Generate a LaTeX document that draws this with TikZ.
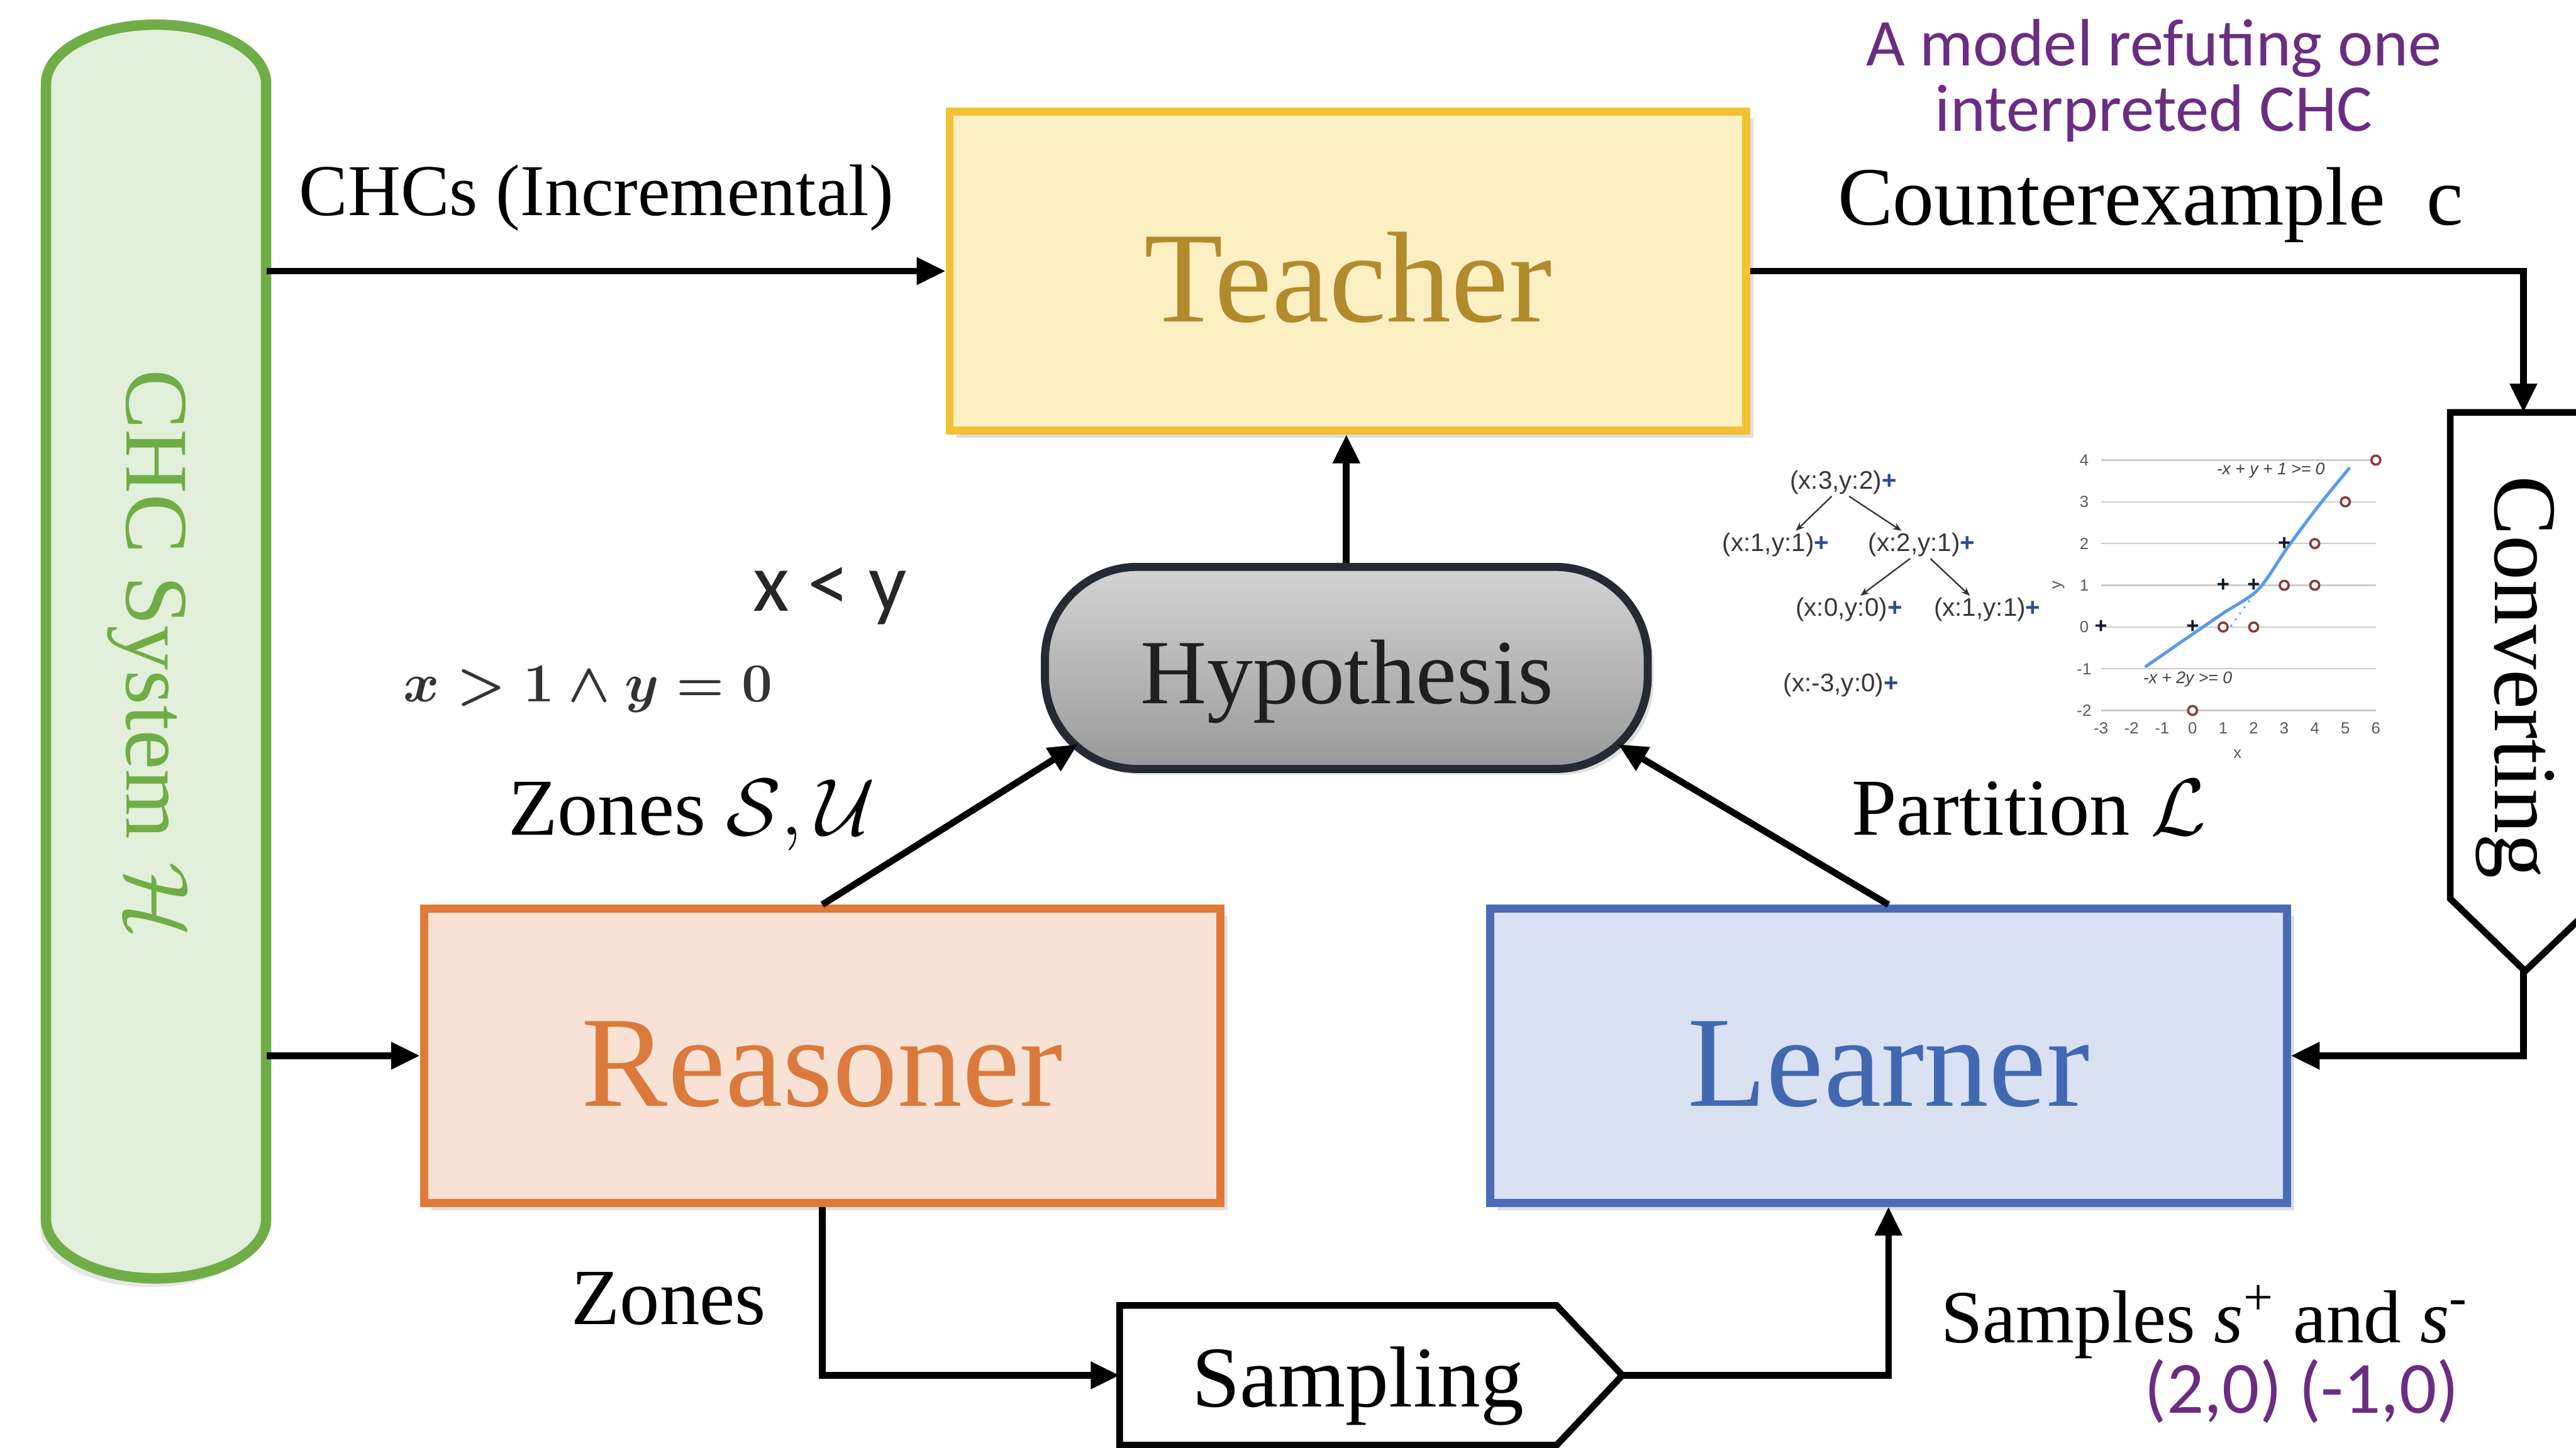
\RequirePackage{fix-cm}
\documentclass[tikz,border=0pt]{standalone}
\usepackage{fontspec}
\setmainfont{Liberation Serif}
\newfontfamily\chartfont{Liberation Sans}
\newfontfamily\calfont{Carlito}
\usetikzlibrary{arrows.meta,shadows}
\newcommand\setfs[1]{\fontsize{#1}{#1}\selectfont}
\definecolor{tborder}{HTML}{F2C134}
\definecolor{tfill}{HTML}{FCF0C3}
\definecolor{ttext}{HTML}{B38B2D}
\definecolor{rborder}{HTML}{E07A38}
\definecolor{rfill}{HTML}{F8E2D5}
\definecolor{rtext}{HTML}{DB7A3C}
\definecolor{lborder}{HTML}{4A6CB5}
\definecolor{lfill}{HTML}{D9E1F3}
\definecolor{ltext}{HTML}{4268B2}
\definecolor{gborder}{HTML}{70AD47}
\definecolor{gfill}{HTML}{E2EFDA}
\definecolor{purp}{HTML}{6B2D82}
\definecolor{plusblue}{HTML}{2E4D8A}
\definecolor{circred}{HTML}{8E3B3B}
\definecolor{lineblue}{HTML}{5A9BE8}
\definecolor{hypborder}{HTML}{262A33}
\begin{document}
\begin{tikzpicture}[x=0.02cm,y=-0.02cm,
  bigbox/.style={draw, line width=2.8pt, inner sep=0pt, minimum width=9.7cm,
     drop shadow={opacity=0.25,shadow xshift=2.5pt,shadow yshift=-2.5pt}},
  bigtxt/.style={anchor=base, inner sep=0pt, font=\setfs{44.8}},
  arr/.style={line width=2.3pt, -{Triangle[length=10pt,width=9pt]}},
  lbl/.style={anchor=base, inner sep=0pt},
  flowshape/.style={draw, line width=2.3pt, fill=white, line join=miter},
  treetxt/.style={font=\chartfont\setfs{8.8}, text=black!78, inner sep=0.5pt},
  treearr/.style={line width=0.5pt, black!80, -{Stealth[length=3pt,width=2.4pt]}},
  cir/.style={draw=circred, line width=0.8pt, fill=white}
]
\useasboundingbox (0,0) rectangle (1568,881);

% CHC system pill
\draw[line width=3.6pt, draw=gborder, fill=gfill,
      drop shadow={opacity=0.2,shadow xshift=-2pt,shadow yshift=-3pt}]
  (28,742) arc[start angle=180,end angle=0,x radius=67,y radius=36]
  -- (162,51) arc[start angle=0,end angle=-180,x radius=67,y radius=36] -- cycle;
\node[minimum width=2.68cm, minimum height=15.26cm, inner sep=0pt] (chc) at (95,396.5) {};
\node[rotate=-90, text=gborder, font=\setfs{31}, inner sep=0pt] (chclbl) at (90,398) {CHC System $\mathcal{H}$};

% main boxes
\node[bigbox, draw=tborder, fill=tfill, minimum height=3.88cm] (teacher) at (820.5,165) {};
\node[bigtxt, text=ttext] (teacherlbl) at (820.5,196) {Teacher};
\node[bigbox, draw=rborder, fill=rfill, minimum height=3.58cm] (reasoner) at (500.5,642.5) {};
\node[bigtxt, text=rtext] (reasonerlbl) at (500.5,673) {Reasoner};
\node[bigbox, draw=lborder, fill=lfill, minimum height=3.58cm] (learner) at (1149.5,642.5) {};
\node[bigtxt, text=ltext] (learnerlbl) at (1149.5,673) {Learner};
\node[draw=hypborder, line width=2.8pt, rounded corners=32pt, top color=black!17, bottom color=black!40,
      minimum width=7.34cm, minimum height=2.46cm, inner sep=0pt,
      drop shadow={opacity=0.25,shadow xshift=2pt,shadow yshift=-2pt}] (hyp) at (819.5,406.5) {};
\node[lbl, font=\setfs{31.8}, text=black!88] (hyplbl) at (820,428) {Hypothesis};

% Converting (pointing down)
\draw[flowshape] (1491.5,251) -- (1583,251) -- (1583,547) -- (1537,591) -- (1491.5,547) -- cycle;
\coordinate (convtop) at (1536,251);
\coordinate (convtip) at (1536,591);
\node[rotate=-90, font=\setfs{31}, inner sep=0pt] (convlbl) at (1531,412) {Converting};

% Sampling (pointing right)
\draw[flowshape] (681.5,794.5) -- (947.5,794.5) -- (987.5,837) -- (947.5,879.5) -- (681.5,879.5) -- cycle;
\coordinate (sampin) at (681.5,837);
\coordinate (samptip) at (987.5,837);
\node[lbl, font=\setfs{30}] (samplbl) at (826.5,856) {Sampling};

% anchor coordinates on the hypothesis
\coordinate (hypL) at (656,453);
\coordinate (hypR) at (985,453);

% connectors
\draw[arr] (chc.east |- teacher.west) -- (teacher.west);
\draw[arr] (chc.east |- reasoner.west) -- (reasoner.west);
\draw[arr] (teacher.east) -| (convtop);
\draw[arr] (convtip) |- (learner.east);
\draw[arr] (hyp.north) -- (hyp.north |- teacher.south);
\draw[arr] (reasoner.north) -- (hypL);
\draw[arr] (learner.north) -- (hypR);
\draw[arr] (reasoner.south) |- (sampin);
\draw[arr] (samptip) -| (learner.south);

% labels
\node[lbl, font=\setfs{25.3}] (lchcs) at (363,131) {CHCs (Incremental)};
\node[lbl, font=\setfs{28.7}] (lcex) at (1309,137) {Counterexample\ \ c};
\node[lbl, font=\calfont\setfs{23.2}, text=purp] (ltitle1) at (1311,40) {A model refuting one};
\node[lbl, font=\calfont\setfs{23.2}, text=purp] (ltitle2) at (1311,80) {interpreted CHC};
\node[lbl, font=\calfont\setfs{29}, text=black!85] (lxy) at (505,372) {x < y};
\node[lbl, font=\setfs{19}\boldmath, text=black!80] (lxy2) at (358,427) {$x>1\wedge y=0$};
\node[lbl, font=\setfs{28}] (lzsu) at (421,508) {Zones $\mathcal{S},\mathcal{U}$};
\node[lbl, font=\setfs{28}] (lpart) at (1235,508) {Partition $\mathcal{L}$};
\node[lbl, font=\setfs{27.6}] (lzones) at (407,806) {Zones};
\node[lbl, font=\setfs{26}] (lsamples) at (1342,817) {Samples {\itshape s}\textsuperscript{+} and {\itshape s}\textsuperscript{-}};
\node[lbl, font=\calfont\setfs{25.5}, text=purp] (lpts) at (1401,860) {(2,0) (-1,0)};

% decision tree
\node[treetxt] (t1) at (1122,293.6) {(x:3,y:2)\textcolor{plusblue}{\bfseries+}};
\node[treetxt] (t2) at (1080.8,331.5) {(x:1,y:1)\textcolor{plusblue}{\bfseries+}};
\node[treetxt] (t3) at (1169.7,331.5) {(x:2,y:1)\textcolor{plusblue}{\bfseries+}};
\node[treetxt] (t4) at (1125.4,371) {(x:0,y:0)\textcolor{plusblue}{\bfseries+}};
\node[treetxt] (t5) at (1209.6,371) {(x:1,y:1)\textcolor{plusblue}{\bfseries+}};
\node[treetxt] (t6) at (1120.6,417) {(x:-3,y:0)\textcolor{plusblue}{\bfseries+}};
\draw[treearr] ([xshift=-4pt]t1.south) -- ([xshift=7pt]t2.north);
\draw[treearr] ([xshift=2pt]t1.south) -- ([xshift=-7pt]t3.north);
\draw[treearr] ([xshift=-4pt]t3.south) -- ([xshift=4pt]t4.north);
\draw[treearr] ([xshift=3pt]t3.south) -- ([xshift=-6pt]t5.north);

% chart
\begin{scope}[shift={(1334.6,381.6)}, x=0.372cm, y=0.508cm]
  \foreach \v in {-2,...,4} {
    \draw[black!20, line width=0.5pt] (-3,\v) -- (6,\v);
    \node[font=\chartfont\setfs{5.6}, text=black!65, inner sep=0pt] (ylab\v) at (-3.55,\v) {\v};
  }
  \foreach \u in {-3,...,6}
    \node[font=\chartfont\setfs{5.6}, text=black!65, inner sep=0pt] (xlab\u) at (\u,-2.42) {\u};
  \node[font=\chartfont\setfs{5.6}, text=black!65, inner sep=0pt] (xtitle) at (1.47,-3.05) {x};
  \node[font=\chartfont\setfs{5.6}, text=black!65, inner sep=0pt, rotate=90] (ytitle) at (-4.39,1) {y};
  \draw[lineblue, line width=1.1pt, line cap=round] plot[smooth, tension=0.5] coordinates
     {(-1.52,-0.94) (0,-0.17) (1,0.33) (2.15,0.9) (3.1,1.9) (4.1,2.88) (5.12,3.8)};
  \draw[lineblue, line width=0.6pt, dotted] (1.25,0.02) -- (2.08,0.85);
  \foreach \p/\n in {{(-3,0)}/a,{(0,0)}/b,{(1,1)}/c,{(2,1)}/d,{(3,2)}/e}
    \node[text=black!70!plusblue, font=\chartfont\bfseries\setfs{7.5}, inner sep=0pt] (pp\n) at \p {+};
  \foreach \p in {(1,0),(2,0),(0,-2),(3,1),(4,1),(4,2),(5,3),(6,4)}
    \draw[cir] \p circle[radius=1.55pt];
  \node[font=\chartfont\itshape\setfs{5.8}, text=black!75, inner sep=0pt] (eq1) at (2.56,3.75) {-x + y + 1 >= 0};
  \node[font=\chartfont\itshape\setfs{5.8}, text=black!75, inner sep=0pt] (eq2) at (-0.16,-1.25) {-x + 2y >= 0};
\end{scope}
\end{tikzpicture}
\end{document}
